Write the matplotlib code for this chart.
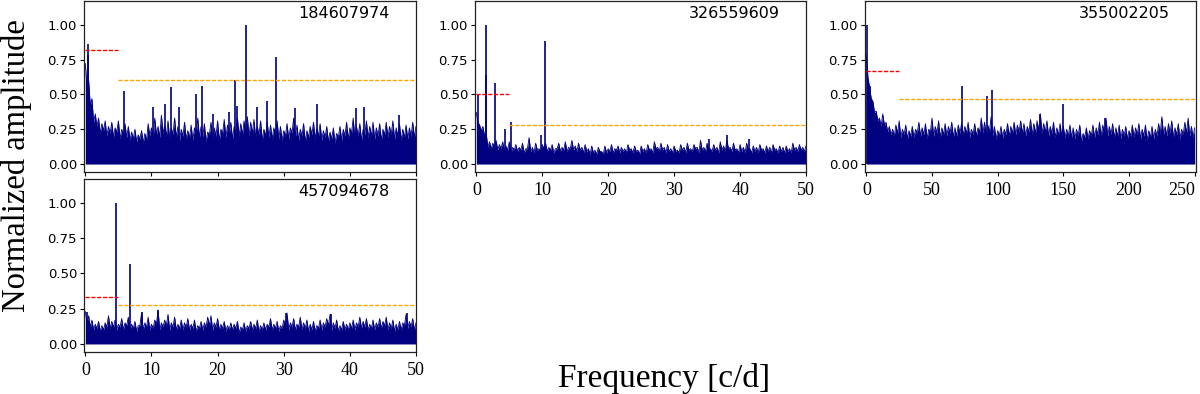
import numpy as np
import matplotlib
matplotlib.use("Agg")
import matplotlib.pyplot as plt

# ---------------- data ----------------
ids = ["184607974", "326559609", "355002205", "457094678"]

# noise: local maxima (upper edge) of the spectrum
env1 = [0.72, 0.60, 0.47, 0.36, 0.33, 0.29, 0.31, 0.27, 0.30, 0.26, 0.31, 0.25, 0.29, 0.27, 0.23,
        0.25, 0.21, 0.24, 0.22, 0.29, 0.26, 0.33, 0.27, 0.35, 0.28, 0.31, 0.26, 0.33, 0.27, 0.25,
        0.30, 0.24, 0.28, 0.26, 0.33, 0.27, 0.29, 0.23, 0.30, 0.26, 0.31, 0.25, 0.32, 0.28, 0.30,
        0.27, 0.33, 0.29, 0.31, 0.34, 0.30, 0.32, 0.27, 0.31, 0.25, 0.30, 0.28, 0.26, 0.31, 0.27,
        0.24, 0.29, 0.26, 0.33, 0.28, 0.25, 0.29, 0.24, 0.27, 0.30, 0.26, 0.29, 0.24, 0.27, 0.23,
        0.26, 0.22, 0.27, 0.25, 0.30, 0.26, 0.33, 0.27, 0.29, 0.25, 0.31, 0.27, 0.30, 0.26, 0.29,
        0.25, 0.30, 0.27, 0.31, 0.26, 0.29, 0.25, 0.28, 0.26, 0.30, 0.27]
env2 = [0.37, 0.28, 0.27, 0.22, 0.16, 0.15, 0.17, 0.14, 0.16, 0.13, 0.16, 0.12, 0.14, 0.12, 0.15,
        0.11, 0.19, 0.12, 0.15, 0.11, 0.14, 0.15, 0.12, 0.14, 0.11, 0.15, 0.12, 0.16, 0.12, 0.17,
        0.13, 0.15, 0.12, 0.14, 0.11, 0.13, 0.10, 0.12, 0.09, 0.13, 0.11, 0.14, 0.11, 0.13, 0.12,
        0.11, 0.14, 0.11, 0.13, 0.10, 0.13, 0.11, 0.14, 0.11, 0.16, 0.12, 0.15, 0.12, 0.14, 0.11,
        0.13, 0.10, 0.14, 0.12, 0.15, 0.11, 0.14, 0.12, 0.17, 0.12, 0.15, 0.11, 0.14, 0.12, 0.16,
        0.13, 0.17, 0.12, 0.15, 0.11, 0.14, 0.12, 0.15, 0.11, 0.13, 0.12, 0.14, 0.11, 0.13, 0.12,
        0.14, 0.11, 0.13, 0.12, 0.13, 0.11, 0.15, 0.12, 0.14, 0.12, 0.13]
env3 = [0.78, 0.55, 0.45, 0.38, 0.33, 0.36, 0.30, 0.27, 0.25, 0.28, 0.31, 0.25, 0.28, 0.24, 0.27,
        0.25, 0.30, 0.26, 0.29, 0.25, 0.33, 0.27, 0.31, 0.26, 0.29, 0.27, 0.30, 0.26, 0.28, 0.29,
        0.27, 0.30, 0.25, 0.29, 0.26, 0.33, 0.30, 0.28, 0.34, 0.27, 0.24, 0.27, 0.25, 0.29, 0.27,
        0.30, 0.28, 0.31, 0.29, 0.27, 0.32, 0.29, 0.31, 0.36, 0.29, 0.31, 0.27, 0.30, 0.26, 0.29,
        0.27, 0.25, 0.28, 0.26, 0.25, 0.28, 0.22, 0.26, 0.24, 0.28, 0.26, 0.30, 0.28, 0.33, 0.27,
        0.29, 0.26, 0.28, 0.25, 0.27, 0.24, 0.28, 0.26, 0.29, 0.25, 0.28, 0.24, 0.27, 0.25, 0.29,
        0.34, 0.27, 0.29, 0.31, 0.26, 0.29, 0.25, 0.30, 0.33, 0.27, 0.26]
env4 = [0.23, 0.20, 0.17, 0.14, 0.16, 0.13, 0.15, 0.20, 0.16, 0.17, 0.14, 0.18, 0.15, 0.19, 0.14,
        0.16, 0.13, 0.22, 0.15, 0.19, 0.14, 0.17, 0.24, 0.15, 0.17, 0.21, 0.15, 0.19, 0.14, 0.17,
        0.15, 0.18, 0.14, 0.17, 0.13, 0.16, 0.15, 0.19, 0.20, 0.15, 0.18, 0.14, 0.16, 0.13, 0.15,
        0.14, 0.16, 0.12, 0.15, 0.13, 0.16, 0.14, 0.17, 0.13, 0.15, 0.14, 0.18, 0.14, 0.16, 0.13,
        0.17, 0.22, 0.15, 0.18, 0.14, 0.19, 0.15, 0.17, 0.14, 0.16, 0.13, 0.17, 0.15, 0.18, 0.21,
        0.15, 0.17, 0.13, 0.16, 0.14, 0.15, 0.17, 0.15, 0.19, 0.16, 0.18, 0.14, 0.17, 0.15, 0.18,
        0.16, 0.19, 0.15, 0.17, 0.14, 0.16, 0.15, 0.21, 0.16, 0.18, 0.15]

# noise: local minima between those maxima (lower edge of the spiky band)
low1 = [0.55, 0.42, 0.30, 0.27, 0.22, 0.24, 0.20, 0.22, 0.19, 0.23,
        0.18, 0.21, 0.19, 0.17, 0.18, 0.16, 0.18, 0.15, 0.17, 0.20,
        0.18, 0.21, 0.19, 0.22, 0.20, 0.18, 0.21, 0.19, 0.17, 0.20,
        0.18, 0.19, 0.17, 0.21, 0.19, 0.20, 0.16, 0.21, 0.18, 0.20,
        0.17, 0.22, 0.19, 0.21, 0.18, 0.22, 0.20, 0.21, 0.23, 0.20,
        0.22, 0.19, 0.21, 0.17, 0.20, 0.19, 0.18, 0.21, 0.18, 0.17,
        0.20, 0.18, 0.22, 0.19, 0.17, 0.20, 0.16, 0.19, 0.21, 0.18,
        0.20, 0.17, 0.19, 0.16, 0.18, 0.15, 0.19, 0.17, 0.20, 0.18,
        0.22, 0.19, 0.20, 0.17, 0.21, 0.19, 0.20, 0.18, 0.20, 0.17,
        0.21, 0.19, 0.21, 0.18, 0.20, 0.17, 0.19, 0.18, 0.20, 0.19]
low2 = [0.30, 0.24, 0.20, 0.12, 0.11, 0.12, 0.10, 0.11, 0.09, 0.10,
        0.08, 0.10, 0.09, 0.10, 0.08, 0.11, 0.09, 0.08, 0.10, 0.09,
        0.11, 0.09, 0.10, 0.08, 0.11, 0.09, 0.10, 0.09, 0.11, 0.10,
        0.09, 0.10, 0.08, 0.09, 0.07, 0.08, 0.07, 0.09, 0.07, 0.08,
        0.09, 0.08, 0.10, 0.08, 0.09, 0.08, 0.10, 0.08, 0.09, 0.07,
        0.09, 0.08, 0.10, 0.08, 0.11, 0.09, 0.10, 0.08, 0.09, 0.08,
        0.09, 0.08, 0.10, 0.08, 0.10, 0.09, 0.11, 0.08, 0.10, 0.09,
        0.11, 0.09, 0.10, 0.08, 0.10, 0.09, 0.11, 0.09, 0.10, 0.08,
        0.09, 0.08, 0.10, 0.08, 0.09, 0.08, 0.10, 0.08, 0.09, 0.08,
        0.10, 0.08, 0.09, 0.08, 0.09, 0.08, 0.10, 0.09, 0.10, 0.09]
low3 = [0.62, 0.47, 0.37, 0.31, 0.27, 0.28, 0.23, 0.21, 0.20, 0.22,
        0.19, 0.21, 0.18, 0.20, 0.19, 0.22, 0.20, 0.21, 0.18, 0.23,
        0.20, 0.22, 0.19, 0.21, 0.20, 0.22, 0.19, 0.20, 0.22, 0.21,
        0.22, 0.19, 0.21, 0.20, 0.23, 0.22, 0.21, 0.23, 0.20, 0.18,
        0.20, 0.19, 0.21, 0.20, 0.22, 0.21, 0.23, 0.22, 0.20, 0.23,
        0.21, 0.22, 0.24, 0.22, 0.23, 0.20, 0.22, 0.19, 0.21, 0.20,
        0.19, 0.20, 0.19, 0.18, 0.20, 0.16, 0.19, 0.18, 0.20, 0.19,
        0.21, 0.20, 0.22, 0.20, 0.21, 0.19, 0.20, 0.18, 0.20, 0.18,
        0.20, 0.19, 0.21, 0.18, 0.20, 0.17, 0.19, 0.18, 0.20, 0.22,
        0.21, 0.20, 0.22, 0.19, 0.21, 0.18, 0.21, 0.22, 0.20, 0.19]
low4 = [0.15, 0.12, 0.10, 0.11, 0.09, 0.10, 0.12, 0.11, 0.12, 0.10,
        0.12, 0.10, 0.13, 0.10, 0.11, 0.09, 0.13, 0.10, 0.12, 0.10,
        0.11, 0.14, 0.10, 0.12, 0.13, 0.10, 0.12, 0.10, 0.11, 0.10,
        0.12, 0.10, 0.11, 0.09, 0.11, 0.10, 0.12, 0.13, 0.10, 0.12,
        0.10, 0.11, 0.09, 0.10, 0.10, 0.11, 0.08, 0.10, 0.09, 0.11,
        0.10, 0.11, 0.09, 0.10, 0.10, 0.12, 0.10, 0.11, 0.09, 0.11,
        0.13, 0.10, 0.12, 0.10, 0.12, 0.10, 0.11, 0.09, 0.10, 0.09,
        0.11, 0.10, 0.12, 0.13, 0.10, 0.11, 0.09, 0.10, 0.10, 0.10,
        0.11, 0.10, 0.12, 0.11, 0.12, 0.10, 0.11, 0.10, 0.12, 0.11,
        0.13, 0.10, 0.11, 0.09, 0.10, 0.10, 0.13, 0.11, 0.12, 0.10]

# prominent peaks (frequency [c/d], normalized amplitude)
pk1_f = [0.35, 0.45, 5.8, 10.3, 12.0, 13.0, 14.1, 16.8, 17.6, 19.3, 21.7, 22.6, 23.0, 24.3,
         26.0, 27.5, 28.9, 31.7, 35.1, 40.9, 42.1, 47.4]
pk1_a = [0.86, 0.78, 0.525, 0.41, 0.43, 0.55, 0.41, 0.50, 0.56, 0.36, 0.37, 0.60, 0.42, 1.00,
         0.41, 0.45, 0.77, 0.40, 0.43, 0.40, 0.41, 0.35]
pk2_f = [0.2, 1.4, 1.5, 2.9, 4.4, 5.2, 9.8, 10.4, 35.3, 38.0, 41.3]
pk2_a = [0.50, 1.00, 0.64, 0.585, 0.25, 0.30, 0.21, 0.88, 0.18, 0.205, 0.18]
pk3_f = [0.8, 3.0, 73.2, 92.2, 96.0, 132.6, 149.7, 181.6]
pk3_a = [1.00, 0.56, 0.56, 0.49, 0.53, 0.36, 0.43, 0.33]
pk4_f = [0.2, 4.65, 6.77, 8.6, 11.0, 30.4, 37.2, 48.7]
pk4_a = [0.23, 1.00, 0.57, 0.23, 0.24, 0.22, 0.21, 0.22]

# significance levels: (x_start, x_end, level)
red1, orange1 = (0, 5, 0.82), (5, 50, 0.60)
red2, orange2 = (0, 5, 0.505), (5, 50, 0.28)
red3, orange3 = (0, 25, 0.67), (25, 251, 0.465)
red4, orange4 = (0, 5, 0.333), (5, 50, 0.276)

fmax = [50, 50, 250, 50]
xlims = [(-0.2, 50), (-0.2, 50), (-1, 251), (-0.2, 50)]
xticks = [[0, 10, 20, 30, 40, 50], [0, 10, 20, 30, 40, 50],
          [0, 50, 100, 150, 200, 250], [0, 10, 20, 30, 40, 50]]
yticks = [0.0, 0.25, 0.5, 0.75, 1.0]

envs = [env1, env2, env3, env4]
lows = [low1, low2, low3, low4]
peaks = [(pk1_f, pk1_a), (pk2_f, pk2_a), (pk3_f, pk3_a), (pk4_f, pk4_a)]
levels = [(red1, orange1), (red2, orange2), (red3, orange3), (red4, orange4)]

# ---------------- figure ----------------
W, H = 1200, 394
fig = plt.figure(figsize=(12, 3.94), dpi=100)

def rect(l, t, r, b):
    return [l / W, 1 - b / H, (r - l) / W, (b - t) / H]

rects = [rect(84, 1, 416, 172), rect(475, 1, 806, 172),
         rect(865, 1, 1196, 172), rect(84, 179, 416, 352)]

navy = "#000080"
serif = ["Liberation Serif", "DejaVu Serif"]

for i in range(4):
    ax = fig.add_axes(rects[i])
    hi, lo = envs[i], lows[i]
    amp = np.empty(len(hi) + len(lo))
    amp[0::2] = hi
    amp[1::2] = lo
    f = np.linspace(0, fmax[i], len(amp))
    ax.fill_between(f, 0, amp, color=navy, lw=0)
    ax.plot(f, amp, color=navy, lw=0.6)
    pf, pa = peaks[i]
    ax.vlines(pf, 0, pa, color=navy, lw=1.2)
    (r0, r1, rl), (o0, o1, ol) = levels[i]
    ax.hlines(rl, r0, r1, color="red", lw=1.0, linestyles=(0, (3, 1.2)))
    ax.hlines(ol, o0, o1, color="orange", lw=1.0, linestyles=(0, (3, 1.2)))
    ax.set_xlim(*xlims[i])
    ax.set_ylim(-0.057, 1.17)
    ax.set_yticks(yticks)
    ax.set_yticklabels(["0.00", "0.25", "0.50", "0.75", "1.00"])
    ax.set_xticks(xticks[i])
    ax.tick_params(axis="y", labelsize=9.5, length=3, width=0.8, pad=2)
    ax.tick_params(axis="x", labelsize=13, length=3, width=0.8, pad=4)
    labs = ax.get_xticklabels()
    for lab in labs:
        lab.set_fontfamily(serif)
    if i == 2:
        labs[-1].set_horizontalalignment("right")
    if i == 0:
        ax.set_xticklabels([])
    for s in ax.spines.values():
        s.set_linewidth(0.9)
        s.set_color("#222222")
    ax.text(0.92, 0.925, ids[i], transform=ax.transAxes, ha="right", va="center",
            fontsize=11.5, family="DejaVu Sans")

fig.text(664 / W, 1 - 378 / H, "Frequency [c/d]", ha="center", va="center",
         fontsize=24, family=serif)
fig.text(17 / W, 1 - 166 / H, "Normalized amplitude", ha="center", va="center",
         rotation=90, fontsize=23.5, family=serif)

fig.savefig("out.png", dpi=100)
